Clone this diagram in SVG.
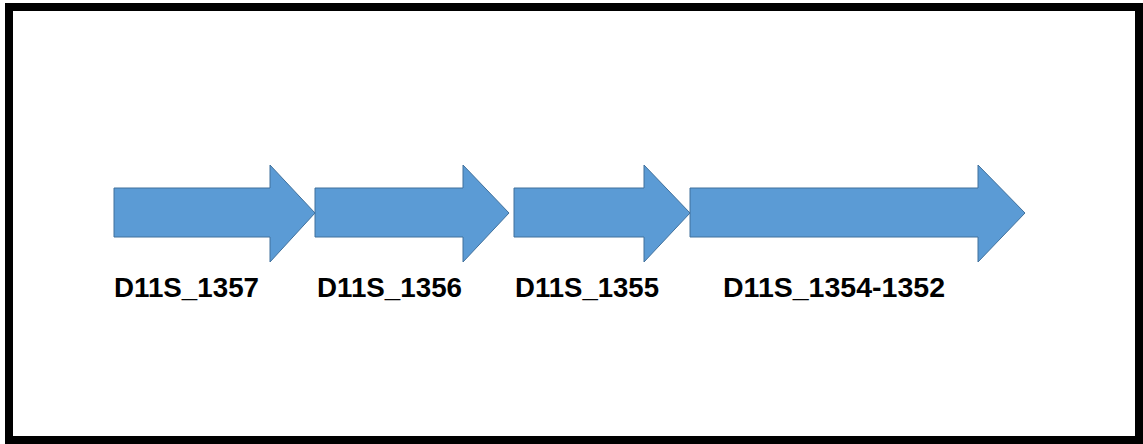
<svg xmlns="http://www.w3.org/2000/svg" width="1143" height="444" viewBox="0 0 1143 444">
<style>
.arrow{fill:#5B9BD5;stroke:#41719C;stroke-width:1}
.lbl{font-family:"Liberation Sans",Arial,sans-serif;font-weight:bold;font-size:27px;fill:#000}
</style>
<rect x="0" y="0" width="1143" height="444" fill="#fff"/>
<rect x="9" y="7" width="1130" height="433" fill="none" stroke="#000" stroke-width="8"/>
<g id="node-1357">
<polygon class="arrow" points="114,188 270,188 270,165 315,213 270,262 270,237 114,237"/>
<text class="lbl" x="114" y="297" textLength="145" lengthAdjust="spacingAndGlyphs">D11S_1357</text>
</g>
<g id="node-1356">
<polygon class="arrow" points="315,188 463,188 463,165 509,213 463,262 463,237 315,237"/>
<text class="lbl" x="317" y="297" textLength="145" lengthAdjust="spacingAndGlyphs">D11S_1356</text>
</g>
<g id="node-1355">
<polygon class="arrow" points="514,188 644,188 644,165 690,213 644,262 644,237 514,237"/>
<text class="lbl" x="515" y="297" textLength="144" lengthAdjust="spacingAndGlyphs">D11S_1355</text>
</g>
<g id="node-1354-1352">
<polygon class="arrow" points="690,188 978,188 978,165 1025,213 978,262 978,237 690,237"/>
<text class="lbl" x="723" y="297" textLength="222" lengthAdjust="spacingAndGlyphs">D11S_1354-1352</text>
</g>
<g id="connectors"></g>
</svg>
